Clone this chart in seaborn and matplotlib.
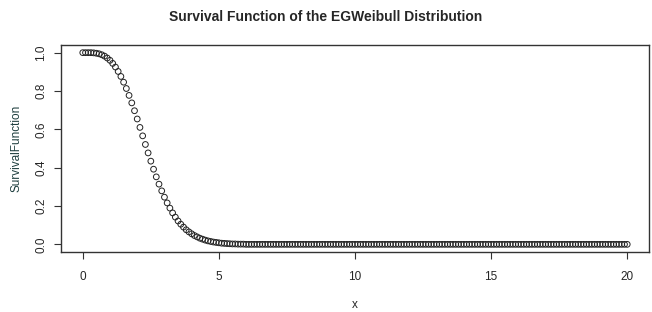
"""
Survival function of the EGWeibull distribution, drawn in R base-plot style.
"""

import matplotlib
matplotlib.use("Agg")
import matplotlib.pyplot as plt
import seaborn as sns

# grid of x values (step 0.1 from 0 to 20)
x_vals = [round(i * 0.1, 1) for i in range(201)]

# survival values, x = 0.0 .. 6.0
surv_head = [
    1.000, 1.000, 1.000, 1.000, 0.999, 0.997, 0.994, 0.989, 0.982, 0.972,
    0.960, 0.944, 0.925, 0.902, 0.876, 0.846, 0.813, 0.777, 0.738, 0.697,
    0.654, 0.610, 0.566, 0.521, 0.477, 0.434, 0.392, 0.352, 0.314, 0.279,
    0.246, 0.216, 0.189, 0.164, 0.142, 0.122, 0.105, 0.090, 0.076, 0.065,
    0.055, 0.046, 0.039, 0.032, 0.027, 0.022, 0.018, 0.015, 0.012, 0.010,
    0.008, 0.006, 0.005, 0.004, 0.003, 0.002, 0.002, 0.001, 0.001, 0.001,
    0.000,
]
# flat tail, x = 6.1 .. 20.0
surv_tail = [0.0] * 140
surv_vals = surv_head + surv_tail

x_ticks = [0, 5, 10, 15, 20]
y_ticks = [0.0, 0.2, 0.4, 0.6, 0.8, 1.0]

sns.set_style("ticks")
plt.rcParams["font.family"] = ["Liberation Sans", "DejaVu Sans"]

fig = plt.figure(figsize=(6.52, 3.12), dpi=100)
ax = fig.add_axes([61 / 652, 1 - 252 / 312, (649 - 61) / 652, (252 - 45) / 312])

sns.scatterplot(x=x_vals, y=surv_vals, ax=ax, marker="o", s=17,
                facecolors="none", edgecolors="#222222", linewidth=0.7)

ax.set_xlim(-0.8, 20.8)
ax.set_ylim(-0.04, 1.04)
ax.set_xticks(x_ticks)
ax.set_xticklabels([str(t) for t in x_ticks])
ax.set_yticks(y_ticks)
ax.set_yticklabels([f"{t:.1f}" for t in y_ticks], rotation=90, va="center")
ax.tick_params(direction="out", length=5, width=0.8, labelsize=8.5, color="#333333")
ax.tick_params(axis="x", pad=9)
ax.tick_params(axis="y", pad=5)

for sp in ax.spines.values():
    sp.set_visible(True)
    sp.set_linewidth(1.0)
    sp.set_color("#333333")

ax.set_xlabel("x", fontsize=8.5, labelpad=11)
ax.set_ylabel("SurvivalFunction", fontsize=8.5, color="#1f3f3f", labelpad=9)
fig.suptitle("Survival Function of the EGWeibull Distribution", fontsize=10,
             fontweight="bold", y=1 - 17 / 312, va="center")

fig.savefig("out.png", dpi=100)
plt.close(fig)
